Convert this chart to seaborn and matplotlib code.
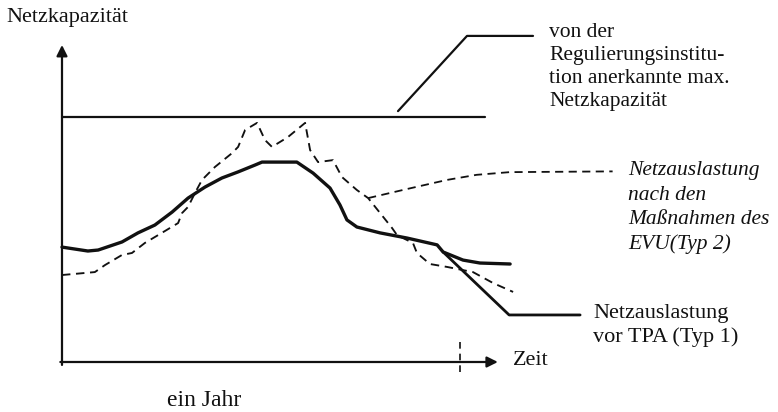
import matplotlib
matplotlib.use("Agg")
import matplotlib.pyplot as plt
import seaborn as sns
import pandas as pd

# Time axis in months, load in percent of the approved maximum capacity
typ1_t = [0.00, 0.78, 1.09, 1.81, 2.29, 2.80, 3.32, 3.80, 4.31, 4.82, 5.31, 5.82,
          6.03, 7.08, 7.57, 8.08, 8.38, 8.59, 8.89, 9.59, 10.40, 11.31, 11.49,
          12.09, 12.60, 13.51]
typ1_load = [46.9, 45.3, 45.7, 49.0, 52.7, 55.9, 61.2, 66.9, 71.4, 75.1, 77.6, 80.4,
             81.6, 81.6, 77.1, 71.0, 64.1, 58.0, 55.1, 52.7, 50.6, 47.8, 44.9,
             41.6, 40.4, 40.0]

typ2_t = [0.00, 0.99, 1.30, 1.81, 2.11, 2.50, 3.01, 3.50, 3.62, 3.80, 4.01, 4.22,
          4.61, 5.13, 5.31, 5.52, 5.88, 6.12, 6.33, 6.81, 7.33, 7.48, 7.72, 8.17,
          8.44, 8.89, 9.23, 9.59, 9.95, 10.10, 10.58, 10.70, 11.09, 11.61, 12.39,
          13.00, 13.60]
typ2_load = [35.5, 36.7, 39.6, 43.7, 44.5, 48.6, 52.7, 56.7, 60.8, 63.3, 69.0, 74.3,
             79.6, 85.3, 87.8, 94.7, 97.6, 90.6, 87.8, 91.8, 97.6, 86.5, 81.6, 82.4,
             75.5, 70.2, 66.9, 60.8, 54.7, 51.8, 48.6, 44.5, 40.0, 38.8, 36.7,
             32.2, 28.6]

cap_t = [0.0, 12.75]
cap_load = [100.0, 100.0]

year_end = 12.0

ylabel = "Netzkapazität"
xlabel = "Zeit"
period_label = "ein Jahr"
cap_lines = ["von der", "Regulierungsinstitu-", "tion anerkannte max.", "Netzkapazität"]
typ2_lines = ["Netzauslastung", "nach den", "Maßnahmen des", "EVU(Typ 2)"]
typ1_lines = ["Netzauslastung", "vor TPA (Typ 1)"]

sns.set_style("white")
plt.rcParams["font.family"] = ["Liberation Serif", "DejaVu Serif"]

W, H = 778, 412
fig = plt.figure(figsize=(W / 100, H / 100), dpi=100)
ax = fig.add_axes([0, 0, 1, 1])
ax.set_xlim(-1.869, 21.586)
ax.set_ylim(-20.41, 147.76)
ax.axis("off")

ink = "#111111"

df1 = pd.DataFrame({"t": typ1_t, "load": typ1_load})
df2 = pd.DataFrame({"t": typ2_t, "load": typ2_load})
dfc = pd.DataFrame({"t": cap_t, "load": cap_load})

sns.lineplot(data=dfc, x="t", y="load", ax=ax, color=ink, lw=1.6, sort=False)
sns.lineplot(data=df1, x="t", y="load", ax=ax, color=ink, lw=2.4, sort=False)
sns.lineplot(data=df2, x="t", y="load", ax=ax, color=ink, lw=1.35, sort=False,
             dashes=False, linestyle=(0, (4.5, 3)))

# Axes with arrowheads
arrow = dict(arrowstyle="-|>", lw=1.6, color=ink, mutation_scale=16,
             shrinkA=0, shrinkB=0)
ax.annotate("", xy=(0, 129.4), xytext=(0, -1.2), arrowprops=arrow)
ax.annotate("", xy=(13.14, 0), xytext=(-0.05, 0), arrowprops=arrow)

# Dashed marker for the end of the year
ax.plot([year_end, year_end], [8.2, -5.3], color=ink, lw=1.2,
        linestyle=(0, (4, 3)))

# Leader lines to the labels
ax.plot([10.13, 12.21, 14.2], [102.4, 133.1, 133.1], color=ink, lw=1.6)
k2 = typ2_t.index(9.23)
ax.plot([typ2_t[k2], 10.4, 11.6, 12.5, 13.5, 16.6],
        [typ2_load[k2], 70.6, 74.3, 76.4, 77.5, 77.8],
        color=ink, lw=1.3, linestyle=(0, (4.5, 3)))
k1 = typ1_t.index(11.49)
ax.plot([typ1_t[k1], 13.48, 15.62], [typ1_load[k1], 19.2, 19.2],
        color=ink, lw=2.0)

def ftext(x, y, s, **kw):
    fig.text(x / W, 1 - y / H, s, color=ink, va="baseline", **kw)

def block(x, baselines, lines, **kw):
    for yb, s in zip(baselines, lines):
        ftext(x, yb, s, ha="left", **kw)

ftext(6, 22, ylabel, fontsize=16, ha="left")
ftext(513, 365, xlabel, fontsize=16, ha="left")
ftext(204, 406, period_label, fontsize=17, ha="center")
block(549, [37, 60, 83, 106], cap_lines, fontsize=15.5)
block(628, [175, 200, 224, 249], typ2_lines, fontsize=15.5, style="italic")
block(593, [318, 342], typ1_lines, fontsize=16)

fig.savefig("out.png", dpi=100)
